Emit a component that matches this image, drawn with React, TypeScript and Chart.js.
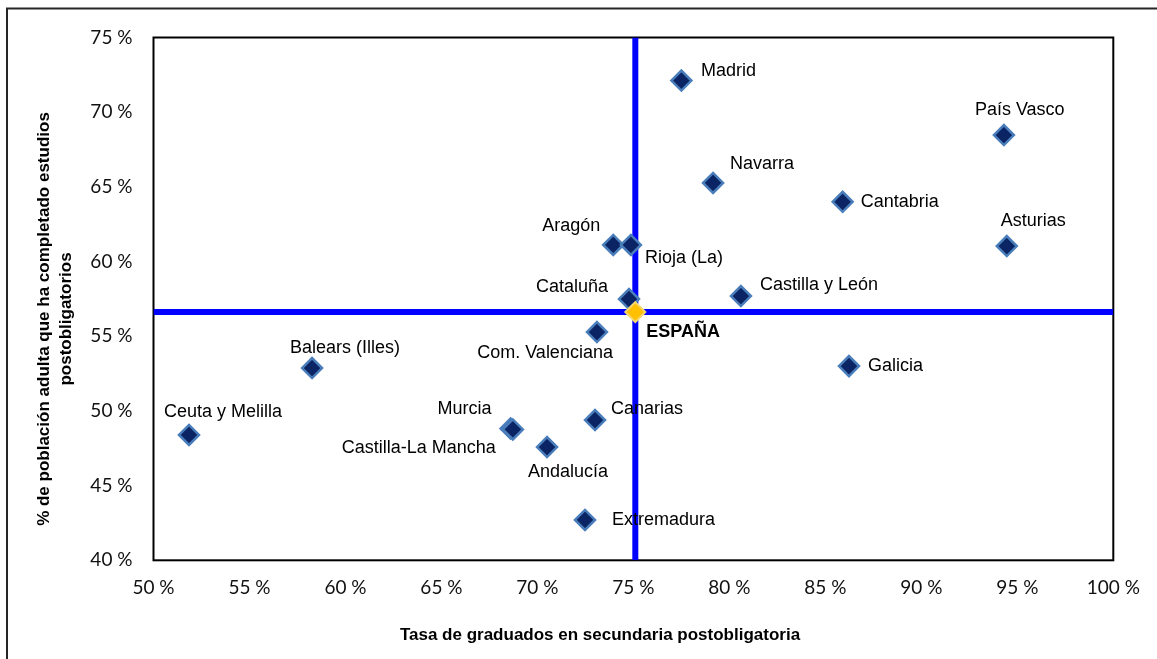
import React, { useEffect, useRef } from "react";
import { Chart, registerables } from "chart.js";

Chart.register(...registerables);

// ---- Data ----
const regions = [
  "Madrid", "País Vasco", "Navarra", "Cantabria", "Asturias", "Aragón", "Rioja (La)",
  "Cataluña", "Castilla y León", "Com. Valenciana", "Balears (Illes)", "Galicia",
  "Ceuta y Melilla", "Murcia", "Castilla-La Mancha", "Andalucía", "Canarias", "Extremadura",
];
const graduationRate = [
  77.5, 94.3, 79.15, 85.9, 94.45, 73.95, 74.87,
  74.77, 80.6, 73.1, 58.26, 86.23,
  51.85, 68.6, 68.72, 70.5, 73.0, 72.48,
];
const adultPostCompulsory = [
  72.12, 68.47, 65.26, 64.0, 61.04, 61.11, 61.11,
  57.49, 57.69, 55.28, 52.87, 53.0,
  48.39, 48.82, 48.76, 47.58, 49.39, 42.7,
];
const spainLabel = "ESPAÑA";
const spainX = 75.1;
const spainY = 56.62;

const xTicks = [50, 55, 60, 65, 70, 75, 80, 85, 90, 95, 100];
const yTicks = [40, 45, 50, 55, 60, 65, 70, 75];

const xTitle = "Tasa de graduados en secundaria postobligatoria";
const yTitleLines = ["% de población adulta que ha completado estudios", "postobligatorios"];

// label placement (pixel offsets from marker centre, text alignment)
const labelPlacement: [number, number, CanvasTextAlign][] = [
  [19.5, -9, "left"], [-29, -25, "left"], [17, -19, "left"], [18, 0, "left"], [-6, -25, "left"],
  [-13, -19, "right"], [14, 13, "left"], [-21, -12, "right"], [19, -11, "left"],
  [16, 21, "right"], [-22, -20, "left"], [19, 0, "left"], [-25, -23, "left"],
  [-19, -20, "right"], [-17, 19, "right"], [21, 25, "center"], [16, -11, "left"], [27, 0, "left"],
];
const spainPlacement: [number, number] = [11, 20];

const LABEL_FONT = '18px "Liberation Sans", Arial, sans-serif';
const BOLD_LABEL_FONT = 'bold 18px "Liberation Sans", Arial, sans-serif';
const TITLE_FONT = 'bold 17px "Liberation Sans", Arial, sans-serif';

const decorPlugin = {
  id: "decor",
  beforeDraw(chart: any) {
    const ctx = chart.ctx;
    ctx.save();
    ctx.fillStyle = "#ffffff";
    ctx.fillRect(0, 0, chart.width, chart.height);
    ctx.strokeStyle = "#262626";
    ctx.lineWidth = 2;
    ctx.strokeRect(7, 8.5, chart.width + 50, chart.height + 50);
    ctx.restore();
  },
  beforeDatasetsDraw(chart: any) {
    const { ctx, chartArea } = chart;
    ctx.save();
    ctx.strokeStyle = "#000000";
    ctx.lineWidth = 2;
    ctx.strokeRect(chartArea.left, chartArea.top, chartArea.right - chartArea.left, chartArea.bottom - chartArea.top);
    ctx.restore();
  },
  afterDatasetsDraw(chart: any) {
    const ctx = chart.ctx;
    ctx.save();
    ctx.fillStyle = "#000000";
    ctx.textBaseline = "middle";
    ctx.font = LABEL_FONT;
    const meta = chart.getDatasetMeta(0);
    meta.data.forEach((el: any, i: number) => {
      const [dx, dy, align] = labelPlacement[i];
      ctx.textAlign = align;
      ctx.fillText(regions[i], el.x + dx, el.y + dy);
    });
    const sp = chart.getDatasetMeta(1).data[0];
    ctx.font = BOLD_LABEL_FONT;
    ctx.textAlign = "left";
    ctx.fillText(spainLabel, sp.x + spainPlacement[0], sp.y + spainPlacement[1]);

    // axis titles
    ctx.font = TITLE_FONT;
    ctx.textAlign = "center";
    ctx.fillText(xTitle, 600, 635);
    ctx.translate(55, 319);
    ctx.rotate(-Math.PI / 2);
    ctx.fillText(yTitleLines[0], 0, -11);
    ctx.fillText(yTitleLines[1], 0, 11);
    ctx.restore();
  },
};

export default function App() {
  const ref = useRef<HTMLCanvasElement>(null);
  useEffect(() => {
    document.body.style.margin = "0";
    const canvas = ref.current!;
    const pts = regions.map((_, i) => ({ x: graduationRate[i], y: adultPostCompulsory[i] }));
    const chart = new Chart(canvas, {
      type: "scatter",
      data: {
        datasets: [
          {
            data: pts,
            pointStyle: "rectRot",
            pointRadius: 10,
            pointBackgroundColor: "#0B2463",
            pointBorderColor: "#4A7EBB",
            pointBorderWidth: 2.5,
            order: 1,
          },
          {
            data: [{ x: spainX, y: spainY }],
            pointStyle: "rectRot",
            pointRadius: 10,
            pointBackgroundColor: "#FFC000",
            pointBorderColor: "#F5D76E",
            pointBorderWidth: 2,
            order: 0,
          },
          {
            type: "line",
            data: [{ x: xTicks[0], y: spainY }, { x: xTicks[xTicks.length - 1], y: spainY }],
            borderColor: "#0000FF",
            borderWidth: 6,
            pointRadius: 0,
            showLine: true,
            order: 3,
          } as any,
          {
            type: "line",
            data: [{ x: spainX, y: yTicks[0] }, { x: spainX, y: yTicks[yTicks.length - 1] }],
            borderColor: "#0000FF",
            borderWidth: 6,
            pointRadius: 0,
            showLine: true,
            order: 3,
          } as any,
        ],
      },
      options: {
        animation: false,
        responsive: false,
        layout: { padding: { left: 0, top: 37.5, right: 43.7, bottom: 0 } },
        plugins: { legend: { display: false }, tooltip: { enabled: false } },
        scales: {
          x: {
            type: "linear",
            min: xTicks[0],
            max: xTicks[xTicks.length - 1],
            afterFit: (s: any) => { s.height = 98.7; },
            afterBuildTicks: (s: any) => { s.ticks = xTicks.map((v) => ({ value: v })); },
            grid: { display: false, drawTicks: false, tickLength: 0 },
            border: { display: false },
            ticks: {
              padding: 16,
              color: "#111",
              font: { family: "Lato", size: 19 },
              callback: (v: any) => `${v} %`,
            },
          },
          y: {
            type: "linear",
            min: yTicks[0],
            max: yTicks[yTicks.length - 1],
            afterFit: (s: any) => { s.width = 153.5; },
            afterBuildTicks: (s: any) => { s.ticks = yTicks.map((v) => ({ value: v })); },
            grid: { display: false, drawTicks: false, tickLength: 0 },
            border: { display: false },
            ticks: {
              padding: 21,
              color: "#111",
              font: { family: "Lato", size: 19 },
              callback: (v: any) => `${v} %`,
            },
          },
        },
      },
      plugins: [decorPlugin],
    });
    return () => chart.destroy();
  }, []);
  return (
    <div style={{ position: "absolute", left: 0, top: 0, width: 1157, height: 659, overflow: "hidden" }}>
      <canvas ref={ref} width={1157} height={659} />
    </div>
  );
}
